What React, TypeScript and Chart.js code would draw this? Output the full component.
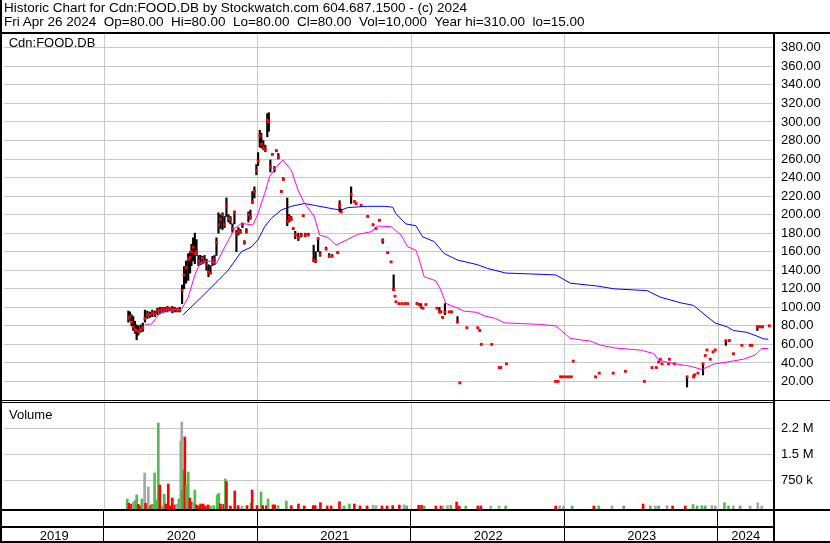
import React, { useEffect, useRef } from 'react';
import { Chart, registerables } from 'chart.js';

Chart.register(...registerables);

// ---------- text ----------
const HEADER_1 = 'Historic Chart for Cdn:FOOD.DB by Stockwatch.com 604.687.1500 - (c) 2024';
const HEADER_2 = 'Fri Apr 26 2024  Op=80.00  Hi=80.00  Lo=80.00  Cl=80.00  Vol=10,000  Year hi=310.00  lo=15.00';
const SYMBOL_LABEL = 'Cdn:FOOD.DB';
const VOLUME_LABEL = 'Volume';

// ---------- axes ----------
const X_MIN = 2019.346;
const X_MAX = 2024.355;
const YEAR_BOUNDARIES = [2020, 2021, 2022, 2023, 2024];
const YEAR_LABEL_POS = [2019.673, 2020.5, 2021.5, 2022.5, 2023.5, 2024.178];
const YEAR_LABELS = ['2019', '2020', '2021', '2022', '2023', '2024'];
const PRICE_MIN = 0;
const PRICE_MAX = 396;
const PRICE_TICKS = [20, 40, 60, 80, 100, 120, 140, 160, 180, 200, 220, 240, 260, 280, 300, 320, 340, 360, 380];
const VOL_MIN = -78000;
const VOL_MAX = 3066000;
const VOL_TICKS = [750000, 1500000, 2250000];
const VOL_TICK_LABELS = ['750 k', '1.5 M', '2.2 M'];

// ---------- daily price (decimal year, low, high, close) ----------
const priceX = [
  2020.156, 2020.166, 2020.177, 2020.188, 2020.199, 2020.210, 2020.221, 2020.236, 2020.250, 2020.264,
  2020.280, 2020.296, 2020.312, 2020.329, 2020.345, 2020.361, 2020.378, 2020.394, 2020.410, 2020.426,
  2020.443, 2020.459, 2020.475, 2020.491, 2020.506, 2020.519, 2020.532, 2020.546, 2020.558, 2020.567,
  2020.578, 2020.589, 2020.600, 2020.613, 2020.626, 2020.639, 2020.652, 2020.665, 2020.678, 2020.691,
  2020.704, 2020.717, 2020.730, 2020.743, 2020.756, 2020.769, 2020.782, 2020.795, 2020.808, 2020.821,
  2020.834, 2020.847, 2020.860, 2020.873, 2020.886, 2020.899, 2020.912, 2020.925, 2020.938, 2020.951,
  2020.964, 2020.977, 2020.990, 2021.001, 2021.012, 2021.022, 2021.035, 2021.048, 2021.061, 2021.071,
  2021.081, 2021.094, 2021.107, 2021.120, 2021.133, 2021.152, 2021.165, 2021.191, 2021.204, 2021.217,
  2021.230, 2021.243, 2021.263, 2021.282, 2021.295, 2021.308, 2021.328, 2021.363, 2021.376, 2021.392,
  2021.405, 2021.444, 2021.464, 2021.483, 2021.520, 2021.532, 2021.542, 2021.607, 2021.630, 2021.639,
  2021.672, 2021.715, 2021.750, 2021.769, 2021.791, 2021.813, 2021.845, 2021.867, 2021.884, 2021.893,
  2021.899, 2021.919, 2021.938, 2021.958, 2021.975, 2022.036, 2022.049, 2022.062, 2022.075, 2022.094,
  2022.166, 2022.182, 2022.192, 2022.203, 2022.218, 2022.247, 2022.261, 2022.300, 2022.315, 2022.361,
  2022.432, 2022.445, 2022.455, 2022.523, 2022.572, 2022.582, 2022.619, 2022.939, 2022.955, 2022.971,
  2022.984, 2023.004, 2023.023, 2023.041, 2023.054, 2023.199, 2023.223, 2023.314, 2023.394, 2023.517,
  2023.567, 2023.595, 2023.610, 2023.621, 2023.632, 2023.675, 2023.680, 2023.712, 2023.795, 2023.838,
  2023.845, 2023.866, 2023.899, 2023.914, 2023.925, 2023.946, 2023.964, 2023.979, 2024.048, 2024.071,
  2024.097, 2024.152, 2024.206, 2024.217, 2024.253, 2024.264, 2024.277, 2024.287, 2024.331,
];
const priceLow = [
  84, 86, 80, 75, 72, 65, 70, 73, 74, 84,
  88, 89, 90, 90, 92, 93, 94, 95, 95, 96,
  94, 95, 95, 95, 104, 120, 126, 129, 137, 145,
  150, 147, 156, 145, 146, 147, 148, 140, 133, 136,
  145, 146, 156, 180, 185, 184, 186, 198, 192, 190,
  181, 190, 160, 178, 180, 186, 168, 180, 192, 195,
  212, 218, 243, 253, 273, 272, 270, 268, 284, 290,
  246, 265, 246, 268, 260, 224, 237, 188, 192, 194,
  184, 174, 172, 176, 198, 176, 178, 149, 148, 160,
  155, 162, 154, 155, 158, 203, 202, 212, 213, 211,
  210, 198, 188, 185, 193, 169, 158, 149, 118, 112,
  106, 104, 104, 104, 104, 104, 103, 99, 99, 103,
  99, 94, 95, 89, 92, 95, 95, 84, 18, 78,
  78, 75, 60, 60, 35, 35, 39, 20, 20, 25,
  25, 25, 25, 25, 42, 25, 29, 29, 31, 20,
  35, 35, 41, 44, 39, 39, 44, 39, 14, 25,
  27, 29, 27, 48, 54, 44, 52, 54, 59, 64,
  50, 59, 59, 59, 75, 79, 79, 79, 80,
];
const priceHigh = [
  96, 95, 92, 90, 85, 81, 80, 81, 83, 97,
  96, 95, 97, 96, 99, 100, 100, 100, 101, 100,
  101, 100, 99, 100, 124, 144, 150, 158, 160, 168,
  175, 180, 173, 156, 156, 155, 156, 152, 146, 145,
  155, 156, 175, 202, 200, 202, 198, 218, 200, 198,
  190, 203, 183, 186, 184, 190, 172, 185, 203, 205,
  225, 230, 254, 267, 291, 288, 280, 275, 309, 310,
  259, 266, 252, 270, 266, 226, 240, 218, 200, 198,
  186, 182, 180, 180, 199, 180, 180, 167, 160, 175,
  160, 165, 158, 157, 160, 215, 206, 230, 215, 213,
  211, 199, 190, 186, 195, 174, 159, 149, 135, 112,
  106, 104, 104, 105, 104, 105, 104, 104, 100, 103,
  100, 100, 96, 90, 104, 96, 96, 90, 19, 78,
  78, 76, 61, 60, 35, 35, 39, 20, 20, 25,
  25, 25, 25, 25, 42, 25, 29, 29, 31, 20,
  35, 35, 41, 44, 39, 39, 44, 39, 25, 27,
  28, 29, 39, 48, 54, 44, 52, 54, 64, 65,
  50, 59, 59, 59, 80, 79, 79, 79, 80,
];
const priceClose = [
  88, 90, 84, 79, 76, 75, 74, 76, 78, 88,
  92, 92, 94, 93, 96, 97, 98, 98, 99, 99,
  97, 98, 97, 97, 118, 135, 143, 152, 154, 160,
  165, 158, 160, 150, 148, 153, 150, 146, 138, 137,
  150, 152, 170, 189, 195, 200, 189, 210, 196, 195,
  185, 203, 180, 182, 181, 190, 170, 182, 200, 197,
  214, 225, 248, 258, 285, 276, 272, 270, 302, 300,
  252, 265, 250, 269, 262, 225, 238, 193, 197, 195,
  185, 178, 175, 178, 199, 178, 178, 151, 150, 174,
  157, 163, 155, 155, 159, 210, 203, 222, 214, 212,
  210, 198, 189, 185, 194, 172, 159, 149, 119, 112,
  106, 104, 104, 104, 104, 104, 103, 101, 99, 103,
  99, 95, 95, 89, 95, 95, 95, 84, 18.5, 78,
  78, 75, 60, 60, 35, 35, 39, 20, 20, 25,
  25, 25, 25, 25, 42, 25, 29, 29, 31, 20,
  35, 35, 41, 44, 39, 39, 44, 39, 25, 25,
  27, 29, 39, 48, 54, 44, 52, 54, 64, 64,
  50, 59, 59, 59, 79, 79, 79, 79, 80,
];

// ---------- moving averages (decimal year, value) ----------
const maLongX = [
  2020.513, 2020.632, 2020.741, 2020.806, 2020.892, 2020.957, 2021.001, 2021.044, 2021.087, 2021.152,
  2021.217, 2021.303, 2021.368, 2021.498, 2021.542, 2021.585, 2021.715, 2021.823, 2021.878, 2021.899,
  2021.964, 2022.029, 2022.073, 2022.148, 2022.213, 2022.300, 2022.430, 2022.495, 2022.614, 2022.776,
  2022.939, 2023.036, 2023.210, 2023.318, 2023.535, 2023.621, 2023.751, 2023.838, 2023.925, 2023.979,
  2024.055, 2024.097, 2024.184, 2024.250, 2024.292, 2024.325,
];
const maLongY = [
  92, 111, 129, 140, 160, 165, 173, 187, 196, 205,
  209, 212, 210, 206, 205, 207.6, 209, 209, 208, 201,
  190, 188, 176, 171, 158, 151, 146, 142, 137, 136,
  135, 126, 123, 120, 118, 111, 105, 102, 90, 83,
  79, 75, 73, 69, 66, 65.5,
];
const maShortX = [
  2020.264, 2020.307, 2020.361, 2020.416, 2020.502, 2020.546, 2020.589, 2020.621, 2020.676, 2020.730,
  2020.784, 2020.849, 2020.892, 2020.968, 2021.001, 2021.044, 2021.076, 2021.120, 2021.163, 2021.217,
  2021.261, 2021.303, 2021.368, 2021.401, 2021.455, 2021.509, 2021.585, 2021.650, 2021.737, 2021.780,
  2021.867, 2021.932, 2021.975, 2022.029, 2022.051, 2022.083, 2022.159, 2022.192, 2022.224, 2022.289,
  2022.343, 2022.430, 2022.473, 2022.549, 2022.603, 2022.841, 2022.939, 2023.036, 2023.166, 2023.231,
  2023.318, 2023.491, 2023.578, 2023.610, 2023.686, 2023.816, 2023.892, 2023.968, 2024.055, 2024.162,
  2024.238, 2024.282, 2024.325,
];
const maShortY = [
  81.5, 82, 93.4, 97, 97.7, 111, 134.8, 147.4, 150, 147.4,
  165, 185.2, 190.6, 188.8, 201.4, 223, 241, 251.7, 259, 248,
  226.6, 212.2, 197.7, 178, 175.5, 167.2, 173.3, 178.7, 181.5, 187.7,
  187, 178, 165.3, 161.8, 151, 133, 128.6, 118.6, 104.2, 99.9,
  95.9, 94.5, 90.8, 88, 83.3, 81.5, 80, 66.4, 63.5, 59.2,
  56.3, 53.8, 50.2, 43, 40, 36.5, 32.9, 38.7, 41, 44,
  48.4, 55.6, 55.6,
];

// ---------- volume (decimal year, shares, direction u/d/f) ----------
const volX = [
  2020.149, 2020.160, 2020.177, 2020.188, 2020.199, 2020.210, 2020.221, 2020.231, 2020.244, 2020.262,
  2020.268, 2020.286, 2020.292, 2020.307, 2020.314, 2020.327, 2020.338, 2020.351, 2020.361, 2020.379,
  2020.390, 2020.400, 2020.416, 2020.426, 2020.442, 2020.459, 2020.470, 2020.485, 2020.498, 2020.504,
  2020.511, 2020.515, 2020.524, 2020.535, 2020.546, 2020.556, 2020.567, 2020.578, 2020.589, 2020.600,
  2020.615, 2020.626, 2020.643, 2020.658, 2020.676, 2020.691, 2020.712, 2020.734, 2020.745, 2020.756,
  2020.777, 2020.788, 2020.795, 2020.821, 2020.849, 2020.871, 2020.897, 2020.929, 2020.955, 2020.962,
  2020.994, 2021.020, 2021.031, 2021.055, 2021.066, 2021.098, 2021.109, 2021.131, 2021.185, 2021.217,
  2021.264, 2021.302, 2021.360, 2021.373, 2021.407, 2021.451, 2021.477, 2021.531, 2021.561, 2021.596,
  2021.628, 2021.665, 2021.711, 2021.750, 2021.769, 2021.808, 2021.841, 2021.878, 2021.921, 2021.953,
  2021.969, 2022.047, 2022.066, 2022.083, 2022.159, 2022.192, 2022.205, 2022.235, 2022.257, 2022.294,
  2022.311, 2022.354, 2022.432, 2022.452, 2022.517, 2022.571, 2022.614, 2022.939, 2022.965, 2022.991,
  2023.047, 2023.188, 2023.220, 2023.307, 2023.383, 2023.509, 2023.556, 2023.589, 2023.610, 2023.665,
  2023.701, 2023.784, 2023.834, 2023.860, 2023.892, 2023.914, 2023.957, 2023.979, 2024.039, 2024.065,
  2024.097, 2024.141, 2024.206, 2024.256, 2024.282,
];
const volume = [
  210000, 87000, 58000, 115000, 162000, 326000, 55000, 10000, 210000, 960000,
  87000, 557000, 10000, 40000, 55000, 960000, 180000, 2400000, 614000, 10000,
  345000, 66000, 643000, 10000, 240000, 40000, 55000, 210000, 1880000, 2430000,
  470000, 1050000, 2000000, 614000, 990000, 240000, 115000, 87000, 470000, 40000,
  10000, 66000, 66000, 10000, 40000, 10000, 20000, 326000, 375000, 66000,
  55000, 787000, 710000, 10000, 441000, 20000, 10000, 20000, 87000, 470000,
  20000, 412000, 20000, 20000, 210000, 40000, 40000, 20000, 153000, 20000,
  66000, 10000, 20000, 20000, 104000, 10000, 10000, 133000, 10000, 66000,
  66000, 10000, 10000, 30000, 20000, 10000, 10000, 20000, 37000, 40000,
  10000, 30000, 30000, 10000, 10000, 10000, 10000, 20000, 30000, 124000,
  10000, 10000, 10000, 10000, 10000, 10000, 10000, 10000, 10000, 10000,
  10000, 10000, 10000, 10000, 10000, 66000, 10000, 10000, 10000, 20000,
  10000, 10000, 50000, 10000, 20000, 10000, 20000, 10000, 104000, 10000,
  10000, 10000, 10000, 104000, 10000,
];
const volDir = [
  'u', 'd', 'd', 'f', 'u', 'u', 'd', 'd', 'u', 'f',
  'd', 'f', 'u', 'd', 'u', 'u', 'u', 'u', 'd', 'u',
  'u', 'd', 'd', 'd', 'd', 'd', 'f', 'u', 'u', 'f',
  'd', 'u', 'd', 'u', 'u', 'd', 'd', 'f', 'u', 'd',
  'd', 'd', 'd', 'd', 'd', 'u', 'u', 'u', 'u', 'd',
  'd', 'u', 'd', 'd', 'd', 'd', 'f', 'd', 'u', 'd',
  'd', 'u', 'd', 'd', 'u', 'd', 'd', 'u', 'u', 'd',
  'd', 'd', 'd', 'd', 'd', 'd', 'd', 'd', 'u', 'u',
  'd', 'd', 'd', 'f', 'f', 'd', 'd', 'd', 'd', 'f',
  'u', 'd', 'd', 'u', 'd', 'd', 'f', 'f', 'u', 'd',
  'd', 'u', 'd', 'd', 'f', 'f', 'u', 'd', 'f', 'f',
  'u', 'd', 'u', 'f', 'u', 'd', 'u', 'f', 'u', 'f',
  'd', 'd', 'u', 'u', 'u', 'u', 'f', 'f', 'u', 'u',
  'f', 'u', 'f', 'f', 'f',
];

// ---------- style ----------
const FONT = "'Liberation Sans', Arial, sans-serif";
const GRID = '#C8C8C8';
const BLUE = '#0000FF';
const MAGENTA = '#FF00FF';
const RED = '#FF0000';
const GREEN = '#4DBD4D';
const GRAY = '#A6A6A6';

const framePlugin = {
  id: 'frame',
  afterDraw(chart: any) {
    const ctx = chart.ctx as CanvasRenderingContext2D;
    const xs = chart.scales.x;
    ctx.save();
    ctx.fillStyle = '#000';
    ctx.fillRect(0, 0, 2, 543);
    ctx.fillRect(0, 32, 830, 2);
    ctx.fillRect(0, 400, 830, 1);
    ctx.fillRect(0, 402, 774, 1);
    ctx.fillRect(773, 33, 2, 510);
    ctx.fillRect(0, 509, 830, 2);
    ctx.fillRect(0, 526, 774, 2);
    ctx.fillRect(0, 541, 830, 2);
    for (const b of YEAR_BOUNDARIES) {
      const px = Math.round(xs.getPixelForValue(b)) - 0.5;
      ctx.fillRect(Math.floor(px), 511, 1, 30);
    }
    ctx.restore();
  },
};

export default function App() {
  const ref = useRef<HTMLCanvasElement>(null);

  useEffect(() => {
    const canvas = ref.current!;
    const xTicks = [...YEAR_BOUNDARIES, ...YEAR_LABEL_POS].sort((a, b) => a - b);
    const chart = new Chart(canvas, {
      type: 'bar',
      data: {
        datasets: [
          {
            type: 'line',
            label: 'MA short',
            data: maShortX.map((x, i) => ({ x, y: maShortY[i] })),
            borderColor: MAGENTA,
            borderWidth: 1,
            pointRadius: 0,
            fill: false,
            tension: 0,
            yAxisID: 'y',
            order: 1,
          },
          {
            type: 'line',
            label: 'MA long',
            data: maLongX.map((x, i) => ({ x, y: maLongY[i] })),
            borderColor: BLUE,
            borderWidth: 1,
            pointRadius: 0,
            fill: false,
            tension: 0,
            yAxisID: 'y',
            order: 2,
          },
          {
            type: 'line',
            label: 'Close',
            data: priceX.map((x, i) => ({ x, y: priceClose[i] })),
            showLine: false,
            pointStyle: 'rect',
            pointRadius: 2,
            pointBorderWidth: 0,
            pointBackgroundColor: RED,
            borderColor: RED,
            yAxisID: 'y',
            order: 3,
          },
          {
            type: 'bar',
            label: 'Range',
            data: priceX.map((x, i) => ({ x, y: [priceLow[i], priceHigh[i]] })),
            backgroundColor: '#000000',
            barThickness: 1.5,
            grouped: false,
            yAxisID: 'y',
            order: 4,
          },
          {
            type: 'bar',
            label: 'Volume',
            data: volX.map((x, i) => ({ x, y: volume[i] })),
            backgroundColor: volDir.map((d) => (d === 'u' ? GREEN : d === 'd' ? RED : GRAY)),
            barThickness: 2,
            grouped: false,
            base: VOL_MIN,
            yAxisID: 'yv',
            order: 5,
          },
        ] as any,
      },
      options: {
        animation: false,
        responsive: false,
        maintainAspectRatio: false,
        events: [],
        layout: { padding: { left: 2, top: 33, right: 0, bottom: 0 } },
        plugins: { legend: { display: false }, tooltip: { enabled: false }, title: { display: false } },
        scales: {
          x: {
            type: 'linear',
            min: X_MIN,
            max: X_MAX,
            offset: false,
            position: 'bottom',
            afterBuildTicks: (s: any) => {
              s.ticks = xTicks.map((v) => ({ value: v }));
            },
            afterFit: (s: any) => {
              s.height = 34;
            },
            grid: {
              offset: false,
              drawTicks: false,
              lineWidth: 1,
              color: (c: any) => (c.tick && YEAR_BOUNDARIES.includes(c.tick.value) ? GRID : 'rgba(0,0,0,0)'),
            },
            border: { display: false },
            ticks: {
              autoSkip: false,
              maxRotation: 0,
              padding: 19.5,
              color: '#000',
              font: { family: FONT, size: 13 },
              callback: (v: any) => {
                const i = YEAR_LABEL_POS.indexOf(Number(v));
                return i >= 0 ? YEAR_LABELS[i] : '';
              },
            },
          },
          y: {
            type: 'linear',
            position: 'right',
            stack: 'panes',
            stackWeight: 367,
            min: PRICE_MIN,
            max: PRICE_MAX,
            afterBuildTicks: (s: any) => {
              s.ticks = PRICE_TICKS.map((v) => ({ value: v }));
            },
            afterFit: (s: any) => {
              s.width = 57;
            },
            grid: { color: GRID, lineWidth: 1, drawTicks: false },
            border: { display: false },
            ticks: {
              autoSkip: false,
              padding: 8,
              color: '#000',
              font: { family: FONT, size: 13 },
              callback: (v: any) => Number(v).toFixed(2),
            },
          },
          yv: {
            type: 'linear',
            position: 'right',
            stack: 'panes',
            stackWeight: 109,
            min: VOL_MIN,
            max: VOL_MAX,
            afterBuildTicks: (s: any) => {
              s.ticks = VOL_TICKS.map((v) => ({ value: v }));
            },
            afterFit: (s: any) => {
              s.width = 57;
            },
            grid: { color: GRID, lineWidth: 1, drawTicks: false },
            border: { display: false },
            ticks: {
              autoSkip: false,
              padding: 8,
              color: '#000',
              font: { family: FONT, size: 13 },
              callback: (v: any) => {
                const i = VOL_TICKS.indexOf(Number(v));
                return i >= 0 ? VOL_TICK_LABELS[i] : '';
              },
            },
          },
        },
      } as any,
      plugins: [framePlugin],
    });
    return () => chart.destroy();
  }, []);

  const txt: React.CSSProperties = {
    position: 'absolute',
    fontFamily: FONT,
    color: '#000',
    whiteSpace: 'pre',
    lineHeight: '1',
    margin: 0,
  };

  return (
    <div style={{ position: 'fixed', left: 0, top: 0, width: 830, height: 543, background: '#fff', overflow: 'hidden' }}>
      <canvas ref={ref} width={830} height={543} style={{ position: 'absolute', left: 0, top: 0, width: 830, height: 543 }} />
      <div style={{ ...txt, left: 4, top: 1.3, fontSize: 13.5 }}>{HEADER_1}</div>
      <div style={{ ...txt, left: 4, top: 15.3, fontSize: 13.5 }}>{HEADER_2}</div>
      <div style={{ ...txt, left: 8.7, top: 35.7, fontSize: 13 }}>{SYMBOL_LABEL}</div>
      <div style={{ ...txt, left: 9, top: 407.5, fontSize: 13 }}>{VOLUME_LABEL}</div>
    </div>
  );
}
